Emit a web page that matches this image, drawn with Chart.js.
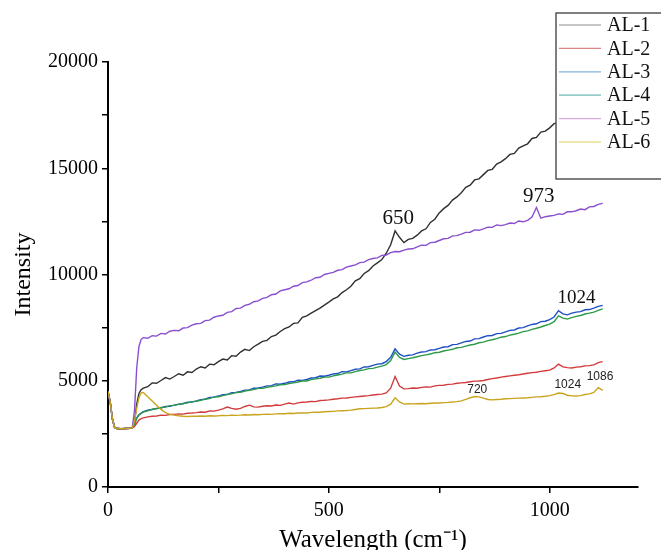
<!DOCTYPE html>
<html>
<head>
<meta charset="utf-8">
<script src="https://cdn.jsdelivr.net/npm/chart.js@4.4.0/dist/chart.umd.min.js"></script>
<style>
  body { margin: 0; background: #fff; }
  #chart { display: block; }
</style>
</head>
<body>
<canvas id="chart" width="661" height="550"></canvas>
<script>
// wavelength (cm-1) sample positions
const wavelength = [
    0, 5, 10, 15, 20, 30, 40, 50, 55, 60, 65, 70, 75,
    80, 90, 100, 110, 120, 130, 140, 150, 160, 170,
    180, 190, 200, 210, 220, 230, 240, 250, 260, 270,
    280, 290, 300, 310, 320, 330, 340, 350, 360, 370,
    380, 390, 400, 410, 420, 430, 440, 450, 460, 470,
    480, 490, 500, 510, 520, 530, 540, 550, 560, 570,
    580, 590, 600, 610, 620, 630, 640, 650, 660, 670,
    680, 690, 700, 710, 720, 730, 740, 750, 760, 770,
    780, 790, 800, 810, 820, 830, 840, 850, 860, 870,
    880, 890, 900, 910, 920, 930, 940, 950, 960, 970,
    980, 990, 1000, 1010, 1020, 1030, 1040, 1050, 1060, 1070,
    1080, 1090, 1100, 1110, 1120
];

const al1 = [
    4500, 4000, 3200, 2800, 2750, 2740, 2750, 2760, 2780, 3050, 3900, 4400, 4580,
    4650, 4720, 4900, 4880, 5010, 5150, 5080, 5200, 5330, 5260,
    5420, 5390, 5550, 5660, 5600, 5780, 5750, 5900, 6020, 5980,
    6180, 6150, 6350, 6480, 6420, 6600, 6720, 6850, 6900, 7080,
    7150, 7320, 7450, 7530, 7700, 7720, 7980, 8050, 8180, 8300,
    8420, 8560, 8700, 8850, 8950, 9150, 9280, 9450, 9700, 9800,
    10050, 10180, 10400, 10550, 10700, 11000, 11400, 12050, 11750, 11500,
    11650, 11700, 11850, 12050, 12150, 12450, 12600, 12900, 13100, 13250,
    13500, 13650, 13850, 14100, 14200, 14450, 14500, 14700, 14900, 14950,
    15200, 15300, 15450, 15650, 15700, 15950, 16050, 16150, 16400, 16450,
    16700, 16750, 16900, 17100, 17150, 17300, 17400, 17500, 17700, 17750,
    17900, 18000, 18100, 18250, 18300
];

const al2 = [
    4500, 4000, 3200, 2800, 2750, 2740, 2750, 2760, 2770, 2850, 3000, 3150, 3220,
    3250, 3300, 3330, 3340, 3380, 3370, 3410, 3420, 3440, 3430,
    3470, 3480, 3500, 3530, 3520, 3580, 3570, 3620, 3680, 3760,
    3700, 3660, 3700, 3790, 3850, 3770, 3760, 3800, 3820, 3810,
    3860, 3840, 3900, 3950, 3900, 3960, 3990, 4000, 4030, 4020,
    4070, 4080, 4100, 4130, 4150, 4180, 4190, 4220, 4240, 4260,
    4280, 4300, 4330, 4350, 4370, 4430, 4650, 5200, 4750, 4620,
    4630, 4660, 4650, 4690, 4710, 4700, 4760, 4780, 4790, 4830,
    4840, 4880, 4900, 4920, 4950, 4980, 4990, 5010, 5060, 5100,
    5130, 5170, 5200, 5230, 5260, 5280, 5320, 5350, 5380, 5400,
    5440, 5470, 5500, 5600, 5780, 5650, 5620, 5600, 5640, 5660,
    5700, 5710, 5750, 5850, 5900
];

const al3 = [
    4500, 4000, 3200, 2800, 2750, 2740, 2750, 2760, 2780, 2950, 3250, 3400, 3480,
    3550, 3620, 3650, 3700, 3720, 3790, 3800, 3850, 3900, 3920,
    3990, 4000, 4050, 4110, 4130, 4210, 4230, 4280, 4340, 4350,
    4440, 4450, 4500, 4560, 4570, 4650, 4660, 4700, 4760, 4770,
    4850, 4840, 4880, 4940, 4950, 5030, 5020, 5060, 5130, 5140,
    5220, 5210, 5260, 5320, 5340, 5430, 5420, 5480, 5540, 5560,
    5650, 5660, 5720, 5780, 5800, 5900, 6100, 6500, 6250, 6150,
    6200, 6220, 6300, 6350, 6370, 6450, 6460, 6520, 6590, 6600,
    6700, 6710, 6780, 6850, 6870, 6970, 6980, 7060, 7120, 7130,
    7220, 7230, 7300, 7370, 7390, 7480, 7500, 7580, 7650, 7680,
    7780, 7800, 7880, 8000, 8300, 8150, 8100, 8180, 8230, 8250,
    8340, 8350, 8420, 8500, 8550
];

const al4 = [
    4500, 4000, 3200, 2800, 2750, 2740, 2750, 2760, 2780, 2950, 3230, 3380, 3460,
    3530, 3580, 3660, 3680, 3740, 3760, 3830, 3840, 3890, 3930,
    3960, 4020, 4030, 4080, 4140, 4160, 4240, 4250, 4300, 4360,
    4380, 4450, 4460, 4510, 4550, 4580, 4640, 4640, 4690, 4730,
    4760, 4810, 4820, 4870, 4900, 4940, 4990, 4990, 5050, 5090,
    5120, 5170, 5170, 5230, 5270, 5310, 5370, 5370, 5430, 5480,
    5510, 5570, 5580, 5640, 5690, 5760, 5950, 6350, 6100, 6000,
    6040, 6080, 6130, 6180, 6220, 6260, 6320, 6340, 6400, 6440,
    6480, 6550, 6570, 6630, 6680, 6720, 6790, 6820, 6890, 6930,
    6980, 7050, 7080, 7150, 7190, 7240, 7310, 7350, 7420, 7470,
    7530, 7600, 7660, 7780, 8050, 7950, 7900, 7970, 8030, 8070,
    8140, 8180, 8230, 8310, 8380
];

const al5 = [
    4500, 4000, 3200, 2800, 2750, 2740, 2750, 2760, 2800, 3600, 5600, 6600, 6950,
    7030, 7000, 7120, 7100, 7230, 7200, 7330, 7370, 7350, 7480,
    7500, 7620, 7680, 7700, 7830, 7850, 7990, 8050, 8080, 8220,
    8250, 8400, 8420, 8550, 8600, 8720, 8760, 8880, 8920, 9050,
    9080, 9230, 9280, 9330, 9450, 9480, 9620, 9650, 9730, 9850,
    9870, 10000, 10050, 10100, 10200, 10230, 10350, 10400, 10450, 10560,
    10580, 10700, 10750, 10780, 10900, 10920, 11030, 11080, 11070, 11150,
    11200, 11210, 11300, 11380, 11370, 11500, 11520, 11600, 11680, 11700,
    11820, 11830, 11900, 11980, 11990, 12100, 12080, 12150, 12230, 12220,
    12330, 12300, 12350, 12420, 12400, 12520, 12480, 12550, 12700, 13150,
    12650, 12720, 12750, 12780, 12850, 12830, 12950, 12950, 13000, 13080,
    13050, 13180, 13200, 13300, 13350
];

const al6 = [
    4500, 4000, 3200, 2800, 2750, 2740, 2750, 2760, 2780, 3100, 3700, 4200, 4430,
    4450, 4250, 4050, 3850, 3650, 3500, 3420, 3380, 3350, 3330,
    3320, 3330, 3330, 3340, 3330, 3350, 3340, 3350, 3370, 3360,
    3380, 3370, 3380, 3400, 3390, 3410, 3400, 3420, 3430, 3420,
    3440, 3450, 3450, 3470, 3460, 3480, 3490, 3480, 3510, 3520,
    3520, 3540, 3550, 3560, 3580, 3590, 3600, 3620, 3650, 3680,
    3690, 3700, 3710, 3720, 3740, 3780, 3900, 4200, 4000, 3900,
    3920, 3910, 3920, 3930, 3920, 3940, 3950, 3950, 3970, 3980,
    4000, 4020, 4050, 4120, 4200, 4260, 4240, 4180, 4120, 4100,
    4120, 4130, 4150, 4160, 4170, 4180, 4190, 4200, 4220, 4240,
    4250, 4270, 4300, 4350, 4420, 4400, 4320, 4290, 4280, 4300,
    4350, 4380, 4450, 4680, 4550
];

const seriesNames = ["AL-1", "AL-2", "AL-3", "AL-4", "AL-5", "AL-6"];
const seriesData = [al1, al2, al3, al4, al5, al6];
const lineColors = ["#303030", "#d23c3c", "#1f4fc4", "#2c9a48", "#8a4fd0", "#c9a41e"];
const legendColors = ["#8c8c8c", "#d98585", "#80b4dc", "#70b8b4", "#d8a8dc", "#dcd35c"];

// peak labels: [text, wavelength, intensity, style]
const peakLabels = [
    ["650", 657, 12640, "serif"],
    ["973", 975, 13670, "serif"],
    ["1024", 1061, 8900, "serif-small"],
    ["720", 836, 4590, "sans"],
    ["1024", 1041, 4820, "sans"],
    ["1086", 1114, 5200, "sans"]
];

const xTicks = [0, 250, 500, 750, 1000];

const peakLabelPlugin = {
    id: "peakLabels",
    afterDatasetsDraw(chart) {
        const ctx = chart.ctx;
        const xs = chart.scales.x, ys = chart.scales.y;
        ctx.save();
        ctx.textAlign = "center";
        ctx.textBaseline = "middle";
        peakLabels.forEach(([text, wx, wy, style]) => {
            if (style === "serif") {
                ctx.font = "21px 'Liberation Serif', 'Times New Roman', serif";
                ctx.fillStyle = "#111";
            } else if (style === "serif-small") {
                ctx.font = "19px 'Liberation Serif', 'Times New Roman', serif";
                ctx.fillStyle = "#111";
            } else {
                ctx.font = "12px 'Liberation Sans', Arial, sans-serif";
                ctx.fillStyle = "#222";
            }
            ctx.fillText(text, xs.getPixelForValue(wx), ys.getPixelForValue(wy));
        });
        ctx.restore();
    }
};

// boxed legend in the top right corner, drawn over the lines
const boxLegendPlugin = {
    id: "boxLegend",
    afterDraw(chart) {
        const ctx = chart.ctx;
        const left = 556, top = 13, bottom = 179;
        ctx.save();
        ctx.fillStyle = "#fff";
        ctx.fillRect(left, top, chart.width - left + 5, bottom - top);
        ctx.strokeStyle = "#555";
        ctx.lineWidth = 1.5;
        ctx.strokeRect(left, top, chart.width - left + 5, bottom - top);
        ctx.font = "20px 'Liberation Serif', 'Times New Roman', serif";
        ctx.textAlign = "left";
        ctx.textBaseline = "middle";
        chart.data.datasets.forEach((ds, i) => {
            const y = 25 + i * 23.4;
            ctx.strokeStyle = legendColors[i];
            ctx.lineWidth = 1.2;
            ctx.beginPath();
            ctx.moveTo(559, y);
            ctx.lineTo(601, y);
            ctx.stroke();
            ctx.fillStyle = "#111";
            ctx.fillText(ds.label, 607, y + 1);
        });
        ctx.restore();
    }
};

const datasets = seriesNames.map((name, i) => ({
    label: name,
    data: wavelength.map((w, j) => ({ x: w, y: seriesData[i][j] })),
    borderColor: lineColors[i],
    borderWidth: 1.4,
    pointRadius: 0,
    fill: false,
    tension: 0,
    order: 6 - i
}));

const serif = "'Liberation Serif', 'Times New Roman', serif";

new Chart(document.getElementById("chart").getContext("2d"), {
    type: "line",
    data: { datasets: datasets },
    options: {
        responsive: false,
        animation: false,
        layout: { padding: { left: 0, right: 23, top: 62, bottom: 0 } },
        plugins: {
            legend: { display: false },
            tooltip: { enabled: false }
        },
        scales: {
            x: {
                type: "linear",
                min: 0,
                max: 1200,
                afterFit: s => { s.height = 63; },
                afterBuildTicks: s => { s.ticks = xTicks.map(v => ({ value: v })); },
                border: { color: "#000", width: 2 },
                grid: { drawOnChartArea: false, drawTicks: true, color: "#000", tickLength: 6, lineWidth: 1.5 },
                ticks: {
                    color: "#000",
                    padding: 6,
                    maxRotation: 0,
                    font: { family: serif, size: 20 },
                    callback: v => (v % 500 === 0 ? String(v) : "")
                },
                title: {
                    display: true,
                    text: "Wavelength (cm\u207B\u00B9)",
                    color: "#000",
                    font: { family: serif, size: 25 },
                    padding: { top: 0, bottom: -5 }
                }
            },
            y: {
                min: 0,
                max: 20000,
                afterFit: s => { s.width = 108; },
                border: { color: "#000", width: 2 },
                grid: { drawOnChartArea: false, drawTicks: true, color: "#000", tickLength: 6, lineWidth: 1.5 },
                ticks: {
                    stepSize: 2500,
                    color: "#000",
                    padding: 4,
                    font: { family: serif, size: 20 },
                    callback: v => (v % 5000 === 0 ? String(v) : "")
                },
                title: {
                    display: true,
                    text: "Intensity",
                    color: "#000",
                    font: { family: serif, size: 24 },
                    padding: { top: 9, bottom: 0 }
                }
            }
        }
    },
    plugins: [peakLabelPlugin, boxLegendPlugin]
});
</script>
</body>
</html>
